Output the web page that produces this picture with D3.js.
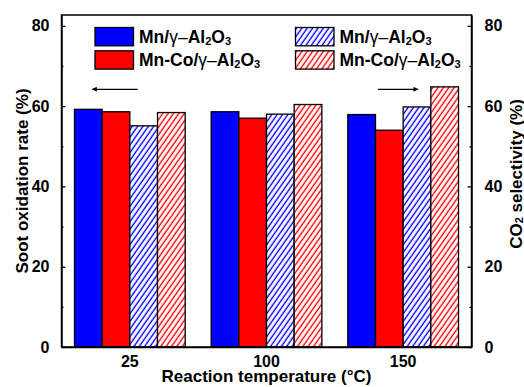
<!DOCTYPE html>
<html>
<head>
<meta charset="utf-8">
<script src="https://cdn.jsdelivr.net/npm/d3@7"></script>
<style>
  html, body { margin: 0; padding: 0; background: #fff; overflow: hidden; }
  svg { display: block; }
  text { font-family: "Liberation Sans", Arial, sans-serif; font-weight: bold; fill: #000; }
</style>
</head>
<body>
<div id="chart"></div>
<script>
// reaction temperatures (°C)
const temps = [ '25', '100', '150' ];
// soot oxidation rate (%), left axis
const mnRate = [ 59.2, 58.6, 57.9 ];
const mnCoRate = [ 58.6, 57.0, 54.0 ];
// CO2 selectivity (%), right axis
const mnSel = [ 55.1, 58.0, 59.8 ];
const mnCoSel = [ 58.4, 60.4, 64.8 ];
const yTicks = [ 0, 20, 40, 60, 80 ];
const yMinorTicks = [ 10, 30, 50, 70 ];

const width = 524, height = 387;
const margin = { top: 15, right: 52.5, bottom: 40, left: 61.5 };
const innerWidth = width - margin.left - margin.right;
const innerHeight = height - margin.top - margin.bottom;

const series = [
    { key: 'mnRate', values: mnRate, color: '#0000ff', hatch: false, axis: 'left' },
    { key: 'mnCoRate', values: mnCoRate, color: '#ff0000', hatch: false, axis: 'left' },
    { key: 'mnSel', values: mnSel, color: '#0000ff', hatch: true, axis: 'right' },
    { key: 'mnCoSel', values: mnCoSel, color: '#ff0000', hatch: true, axis: 'right' }
];

const svg = d3.select( '#chart' ).append( 'svg' )
    .attr( 'width', width )
    .attr( 'height', height );

// hatch patterns
const defs = svg.append( 'defs' );
[ [ 'hatch-blue', '#0000ff' ], [ 'hatch-red', '#ff0000' ] ].forEach( ( [ id, c ] ) => {
    const p = defs.append( 'pattern' )
        .attr( 'id', id )
        .attr( 'patternUnits', 'userSpaceOnUse' )
        .attr( 'width', 4.4 )
        .attr( 'height', 10 )
        .attr( 'patternTransform', 'rotate(35)' );
    p.append( 'rect' ).attr( 'width', 4.4 ).attr( 'height', 10 ).attr( 'fill', '#fff' );
    p.append( 'line' )
        .attr( 'x1', 1.2 ).attr( 'x2', 1.2 ).attr( 'y1', 0 ).attr( 'y2', 10 )
        .attr( 'stroke', c ).attr( 'stroke-width', 1.4 );
} );
const fillOf = s => s.hatch ? `url(#${ s.color === '#0000ff' ? 'hatch-blue' : 'hatch-red' })` : s.color;

const chart = svg.append( 'g' )
    .attr( 'transform', `translate(${ margin.left }, ${ margin.top })` );

const xScale = d3.scaleBand()
    .domain( temps )
    .range( [ 0, innerWidth ] )
    .paddingInner( 0.19 )
    .paddingOuter( 0.095 );

const xSub = d3.scaleBand()
    .domain( series.map( s => s.key ) )
    .range( [ 0, xScale.bandwidth() ] );

const yLeft = d3.scaleLinear().domain( [ 0, 82.7 ] ).range( [ innerHeight, 0 ] );
const yRight = d3.scaleLinear().domain( [ 0, 82.7 ] ).range( [ innerHeight, 0 ] );

// bars
const groups = chart.selectAll( '.group' )
    .data( temps )
    .enter()
    .append( 'g' )
    .attr( 'class', 'group' )
    .attr( 'transform', d => `translate(${ xScale( d ) }, 0)` );

groups.selectAll( 'rect' )
    .data( ( d, i ) => series.map( s => ( { s, value: s.values[ i ] } ) ) )
    .enter()
    .append( 'rect' )
    .attr( 'x', d => xSub( d.s.key ) )
    .attr( 'width', xSub.bandwidth() )
    .attr( 'y', d => ( d.s.axis === 'left' ? yLeft : yRight )( d.value ) )
    .attr( 'height', d => innerHeight - ( d.s.axis === 'left' ? yLeft : yRight )( d.value ) )
    .attr( 'fill', d => fillOf( d.s ) )
    .attr( 'stroke', '#000' )
    .attr( 'stroke-width', 1.3 );

// frame
chart.append( 'rect' )
    .attr( 'width', innerWidth )
    .attr( 'height', innerHeight )
    .attr( 'fill', 'none' )
    .attr( 'stroke', '#000' )
    .attr( 'stroke-width', 1.5 );

// axes
const leftAxis = d3.axisLeft( yLeft ).tickValues( yTicks ).tickSizeInner( -4 ).tickSizeOuter( 0 ).tickPadding( 12 );
chart.append( 'g' ).call( leftAxis );
chart.append( 'g' ).call( d3.axisLeft( yLeft ).tickValues( yMinorTicks ).tickSize( -2 ).tickFormat( '' ) )
    .select( '.domain' ).remove();

const rightAxis = d3.axisRight( yRight ).tickValues( yTicks ).tickSizeInner( -4 ).tickSizeOuter( 0 ).tickPadding( 13 );
chart.append( 'g' ).attr( 'transform', `translate(${ innerWidth }, 0)` ).call( rightAxis );
chart.append( 'g' ).attr( 'transform', `translate(${ innerWidth }, 0)` )
    .call( d3.axisRight( yRight ).tickValues( yMinorTicks ).tickSize( -2 ).tickFormat( '' ) )
    .select( '.domain' ).remove();

const xG = chart.append( 'g' )
    .attr( 'transform', `translate(0, ${ innerHeight })` )
    .call( d3.axisBottom( xScale ).tickSize( 0 ).tickPadding( 6.5 ) );

chart.selectAll( '.domain' ).attr( 'stroke-width', 1.5 );
chart.selectAll( '.tick line' ).attr( 'stroke-width', 1.3 );
chart.selectAll( '.tick text' )
    .style( 'font-family', '"Liberation Sans", Arial, sans-serif' )
    .style( 'font-weight', 'bold' )
    .style( 'font-size', '16px' );
xG.selectAll( '.tick text' ).attr( 'dy', '0.85em' );

// axis titles
svg.append( 'text' )
    .attr( 'transform', `translate(22, ${ margin.top + innerHeight / 2 }) rotate(-90)` )
    .attr( 'text-anchor', 'middle' )
    .attr( 'dominant-baseline', 'central' )
    .style( 'font-size', '17px' )
    .text( 'Soot oxidation rate (%)' );

const rt = svg.append( 'text' )
    .attr( 'transform', `translate(516, 174) rotate(-90)` )
    .attr( 'text-anchor', 'middle' )
    .attr( 'dominant-baseline', 'central' )
    .style( 'font-size', '17px' );
rt.append( 'tspan' ).text( 'CO' );
rt.append( 'tspan' ).style( 'font-size', '11px' ).attr( 'dy', 3 ).text( '2' );
rt.append( 'tspan' ).attr( 'dy', -3 ).text( ' selectivity (%)' );

svg.append( 'text' )
    .attr( 'x', margin.left + innerWidth / 2 )
    .attr( 'y', 381.5 )
    .attr( 'text-anchor', 'middle' )
    .style( 'font-size', '17px' )
    .text( 'Reaction temperature (°C)' );

// legend
const legendItems = [
    { s: series[ 0 ], x: 95, y: 27.5, label: 'Mn' },
    { s: series[ 1 ], x: 95, y: 50.8, label: 'Mn-Co' },
    { s: series[ 2 ], x: 295.5, y: 27.5, label: 'Mn' },
    { s: series[ 3 ], x: 295.5, y: 50.8, label: 'Mn-Co' }
];
const li = svg.append( 'g' ).selectAll( 'g' )
    .data( legendItems )
    .enter()
    .append( 'g' )
    .attr( 'transform', d => `translate(${ d.x }, ${ d.y })` );
li.append( 'rect' )
    .attr( 'width', 38.5 )
    .attr( 'height', 18.3 )
    .attr( 'fill', d => fillOf( d.s ) )
    .attr( 'stroke', '#000' )
    .attr( 'stroke-width', 1.3 );
const lt = li.append( 'text' )
    .attr( 'x', 44 )
    .attr( 'y', 15.5 )
    .style( 'font-size', '17.5px' );
lt.append( 'tspan' ).text( d => d.label + '/' );
lt.append( 'tspan' ).style( 'font-weight', 'normal' ).text( 'γ–' );
lt.append( 'tspan' ).text( 'Al' );
lt.append( 'tspan' ).style( 'font-size', '11px' ).attr( 'dy', 2 ).text( '2' );
lt.append( 'tspan' ).attr( 'dy', -2 ).text( 'O' );
lt.append( 'tspan' ).style( 'font-size', '11px' ).attr( 'dy', 2 ).text( '3' );

// direction arrows
defs.append( 'marker' )
    .attr( 'id', 'arrowhead' )
    .attr( 'viewBox', '0 0 10 10' )
    .attr( 'refX', 9 ).attr( 'refY', 5 )
    .attr( 'markerWidth', 7 ).attr( 'markerHeight', 5 )
    .attr( 'markerUnits', 'userSpaceOnUse' )
    .attr( 'orient', 'auto' )
    .append( 'path' )
    .attr( 'd', 'M0,0 L10,5 L0,10 Z' )
    .attr( 'fill', '#000' );

svg.append( 'line' )
    .attr( 'x1', 137.7 ).attr( 'y1', 89.3 ).attr( 'x2', 92.3 ).attr( 'y2', 89.3 )
    .attr( 'stroke', '#000' ).attr( 'stroke-width', 1.2 )
    .attr( 'marker-end', 'url(#arrowhead)' );
svg.append( 'line' )
    .attr( 'x1', 378 ).attr( 'y1', 89.3 ).attr( 'x2', 418 ).attr( 'y2', 89.3 )
    .attr( 'stroke', '#000' ).attr( 'stroke-width', 1.2 )
    .attr( 'marker-end', 'url(#arrowhead)' );
</script>
</body>
</html>
